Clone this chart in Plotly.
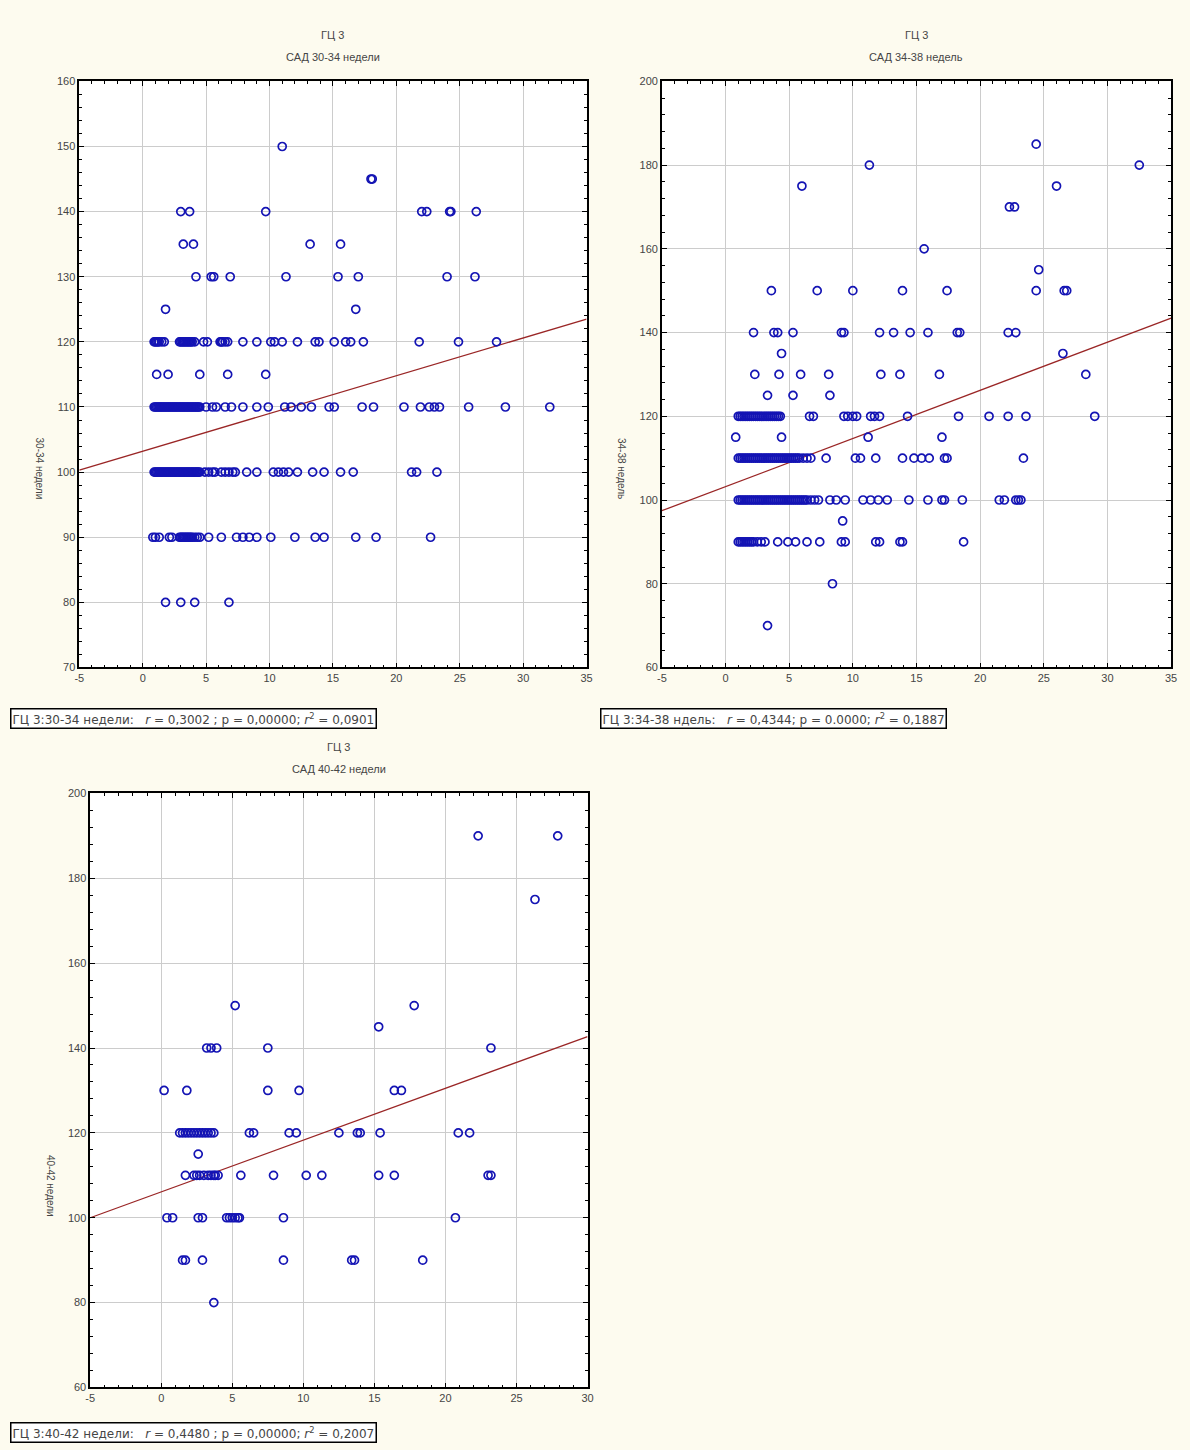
import plotly.graph_objects as go

W, H = 1190, 1450

# ---------------- DATA ----------------
# Panel 1: ГЦ 3 vs САД 30-34 недели  (x values per SBP level)
p1_levels = [150, 145, 140, 135, 130, 125, 120, 115, 110, 100, 90, 80]
p1_x_150 = [11.0]
p1_x_145 = [18.0, 18.1]
p1_x_140 = [3.0, 3.7, 9.7, 22.0, 22.4, 24.2, 24.3, 26.3]
p1_x_135 = [3.2, 4.0, 13.2, 15.6]
p1_x_130 = [4.2, 5.4, 5.6, 6.9, 11.3, 15.4, 17.0, 24.0, 26.2]
p1_x_125 = [1.8, 16.8]
p1_x_120 = [0.9, 1.0, 1.1, 1.2, 1.3, 1.5, 1.7, 2.9, 3.0, 3.1, 3.2, 3.3, 3.4, 3.5, 3.6,
            3.7, 3.8, 3.9, 4.1, 4.8, 5.1, 6.1, 6.2, 6.3, 6.5, 6.7, 7.9, 9.0, 10.1,
            10.4, 11.0, 12.2, 13.6, 13.9, 15.1, 16.0, 16.4, 17.4, 21.8, 24.9, 27.9]
p1_x_115 = [1.1, 2.0, 4.5, 6.7, 9.7]
p1_x_110 = [0.9, 1.0, 1.1, 1.2, 1.3, 1.4, 1.5, 1.6, 1.7, 1.8, 1.9, 2.0, 2.1, 2.2, 2.3,
            2.4, 2.5, 2.6, 2.7, 2.8, 2.9, 3.0, 3.1, 3.2, 3.3, 3.4, 3.5, 3.6, 3.7, 3.8,
            3.9, 4.0, 4.1, 4.2, 4.3, 4.4, 4.5, 5.0, 5.5, 5.8, 6.5, 7.0, 7.9, 9.0, 9.9,
            11.2, 11.7, 12.5, 13.3, 14.7, 15.1, 17.3, 18.2, 20.6, 21.9, 22.6, 23.0,
            23.4, 25.7, 28.6, 32.1]
p1_x_100 = [0.9, 1.0, 1.1, 1.2, 1.3, 1.4, 1.5, 1.6, 1.7, 1.8, 1.9, 2.0, 2.1, 2.2, 2.3,
            2.4, 2.5, 2.6, 2.7, 2.8, 2.9, 3.0, 3.1, 3.2, 3.3, 3.4, 3.5, 3.6, 3.7, 3.8,
            3.9, 4.0, 4.1, 4.2, 4.3, 4.4, 4.5, 4.9, 5.2, 5.5, 5.7, 6.2, 6.5, 6.8, 7.1,
            7.3, 8.2, 9.0, 10.3, 10.7, 11.1, 11.5, 12.2, 13.4, 14.3, 15.6, 16.6, 21.2,
            21.6, 23.2]
p1_x_90 = [0.8, 1.0, 1.3, 2.1, 2.3, 2.9, 3.0, 3.1, 3.2, 3.3, 3.4, 3.5, 3.6, 3.7, 3.8,
           3.9, 4.1, 4.3, 4.5, 5.2, 6.2, 7.4, 7.9, 8.4, 9.0, 10.1, 12.0, 13.6, 14.3,
           16.8, 18.4, 22.7]
p1_x_80 = [1.8, 3.0, 4.1, 6.8]
p1_xrows = [p1_x_150, p1_x_145, p1_x_140, p1_x_135, p1_x_130, p1_x_125, p1_x_120,
            p1_x_115, p1_x_110, p1_x_100, p1_x_90, p1_x_80]

# Panel 2: ГЦ 3 vs САД 34-38 недель
p2_levels = [185, 180, 175, 170, 160, 155, 150, 140, 135, 130, 125, 120, 115, 110, 100, 95, 90, 80, 70]
p2_x_185 = [24.4]
p2_x_180 = [11.3, 32.5]
p2_x_175 = [6.0, 26.0]
p2_x_170 = [22.3, 22.7]
p2_x_160 = [15.6]
p2_x_155 = [24.6]
p2_x_150 = [3.6, 7.2, 10.0, 13.9, 17.4, 24.4, 26.6, 26.8]
p2_x_140 = [2.2, 3.8, 4.1, 5.3, 9.1, 9.3, 12.1, 13.2, 14.5, 15.9, 18.2, 18.4, 22.2, 22.8]
p2_x_135 = [4.4, 26.5]
p2_x_130 = [2.3, 4.2, 5.9, 8.1, 12.2, 13.7, 16.8, 28.3]
p2_x_125 = [3.3, 5.3, 8.2]
p2_x_120 = [1.0, 1.15, 1.3, 1.45, 1.6, 1.75, 1.9, 2.05, 2.2, 2.35, 2.5, 2.65, 2.8, 2.95,
            3.1, 3.25, 3.4, 3.55, 3.7, 3.85, 4.0, 4.15, 4.3, 6.6, 6.9, 9.3, 9.6, 10.0,
            10.3, 11.4, 11.7, 12.1, 14.3, 18.3, 20.7, 22.2, 23.6, 29.0]
p2_x_115 = [0.8, 4.4, 11.2, 17.0]
p2_x_110 = [1.0, 1.15, 1.3, 1.45, 1.6, 1.75, 1.9, 2.05, 2.2, 2.35, 2.5, 2.65, 2.8, 2.95,
            3.1, 3.25, 3.4, 3.55, 3.7, 3.85, 4.0, 4.15, 4.3, 4.45, 4.6, 4.75, 4.9, 5.05,
            5.2, 5.35, 5.5, 5.65, 5.8, 6.1, 6.4, 6.7, 7.9, 10.2, 10.6, 11.8, 13.9, 14.8,
            15.4, 16.0, 17.2, 17.4, 23.4]
p2_x_100 = [1.0, 1.15, 1.3, 1.45, 1.6, 1.75, 1.9, 2.05, 2.2, 2.35, 2.5, 2.65, 2.8, 2.95,
            3.1, 3.25, 3.4, 3.55, 3.7, 3.85, 4.0, 4.15, 4.3, 4.45, 4.6, 4.75, 4.9, 5.05,
            5.2, 5.35, 5.5, 5.65, 5.8, 5.95, 6.1, 6.25, 6.4, 6.7, 7.0, 7.3, 8.2, 8.7,
            9.4, 10.8, 11.4, 12.0, 12.7, 14.4, 15.9, 17.0, 17.2, 18.6, 21.5, 21.9, 22.8,
            23.0, 23.2]
p2_x_95 = [9.2]
p2_x_90 = [1.0, 1.15, 1.3, 1.45, 1.6, 1.75, 1.9, 2.05, 2.2, 2.5, 2.8, 3.1, 4.1, 4.9,
           5.5, 6.4, 7.4, 9.1, 9.4, 11.8, 12.1, 13.7, 13.9, 18.7]
p2_x_80 = [8.4]
p2_x_70 = [3.3]
p2_xrows = [p2_x_185, p2_x_180, p2_x_175, p2_x_170, p2_x_160, p2_x_155, p2_x_150,
            p2_x_140, p2_x_135, p2_x_130, p2_x_125, p2_x_120, p2_x_115, p2_x_110,
            p2_x_100, p2_x_95, p2_x_90, p2_x_80, p2_x_70]

# Panel 3: ГЦ 3 vs САД 40-42 недели
p3_levels = [190, 175, 150, 145, 140, 130, 120, 115, 110, 100, 90, 80]
p3_x_190 = [22.3, 27.9]
p3_x_175 = [26.3]
p3_x_150 = [5.2, 17.8]
p3_x_145 = [15.3]
p3_x_140 = [3.2, 3.5, 3.9, 7.5, 23.2]
p3_x_130 = [0.2, 1.8, 7.5, 9.7, 16.4, 16.9]
p3_x_120 = [1.3, 1.5, 1.7, 1.9, 2.1, 2.3, 2.5, 2.7, 2.9, 3.1, 3.3, 3.5, 3.7, 6.2, 6.5,
            9.0, 9.5, 12.5, 13.8, 14.0, 15.4, 20.9, 21.7]
p3_x_115 = [2.6]
p3_x_110 = [1.7, 2.3, 2.5, 2.7, 3.0, 3.3, 3.5, 3.7, 3.8, 4.0, 5.6, 7.9, 10.2, 11.3,
            15.3, 16.4, 23.0, 23.2]
p3_x_100 = [0.4, 0.8, 2.6, 2.9, 4.6, 4.8, 5.0, 5.2, 5.4, 5.5, 8.6, 20.7]
p3_x_90 = [1.5, 1.7, 2.9, 8.6, 13.4, 13.6, 18.4]
p3_x_80 = [3.7]
p3_xrows = [p3_x_190, p3_x_175, p3_x_150, p3_x_145, p3_x_140, p3_x_130, p3_x_120,
            p3_x_115, p3_x_110, p3_x_100, p3_x_90, p3_x_80]

# regression lines
fit_intercepts = [103.2, 103.2, 106.1]
fit_slopes = [0.58, 1.15, 1.22]

titles_top = ["ГЦ 3", "ГЦ 3", "ГЦ 3"]
titles_sub = ["САД 30-34 недели", "САД 34-38 недель", "САД 40-42 недели"]
y_titles = ["30-34 недели", "34-38 недель", "40-42 недели"]
footers = [
    "ГЦ 3:30-34 недели:   <i>r</i> = 0,3002 ; p = 0,00000; <i>r</i><sup>2</sup> = 0,0901",
    "ГЦ 3:34-38 ндель:   <i>r</i> = 0,4344; p = 0.0000; <i>r</i><sup>2</sup> = 0,1887",
    "ГЦ 3:40-42 недели:   <i>r</i> = 0,4480 ; p = 0,00000; <i>r</i><sup>2</sup> = 0,2007",
]
x_ranges = [[-5, 35], [-5, 35], [-5, 30]]
x_tickvals = [[-5, 0, 5, 10, 15, 20, 25, 30, 35],
              [-5, 0, 5, 10, 15, 20, 25, 30, 35],
              [-5, 0, 5, 10, 15, 20, 25, 30]]
x_ticktext = [["-5", "0", "5", "10", "15", "20", "25", "30", "35"],
              ["-5", "0", "5", "10", "15", "20", "25", "30", "35"],
              ["-5", "0", "5", "10", "15", "20", "25", "30"]]
y_ranges = [[70, 160], [60, 200], [60, 200]]
y_dticks = [10, 20, 20]
y_minor = [2, 4, 4]

# ---------------- LAYOUT (pixel boxes) ----------------
boxes = [  # left, right, top, bottom in px
    (75, 587, 76, 667),
    (663, 1177, 76, 667),
    (86, 588, 794, 1393),
]
footer_left = [5, 601, 5]

def fx(px):
    return px / W

def fy(py):
    return 1 - py / H

FONT = "Liberation Sans, Arial, sans-serif"
MARK = "#1414b4"
LINE = "#9a2626"
TXT = "#454545"

fig = go.Figure()
layout = dict(
    width=W, height=H,
    margin=dict(l=0, r=0, t=0, b=0),
    paper_bgcolor="#fdfbef",
    plot_bgcolor="#ffffff",
    showlegend=False,
    font=dict(family=FONT, size=11, color=TXT),
    annotations=[],
)

panels = [(p1_levels, p1_xrows), (p2_levels, p2_xrows), (p3_levels, p3_xrows)]
for i, (levels, xrows) in enumerate(panels):
    n = "" if i == 0 else str(i + 1)
    xs, ys = [], []
    for lv, row in zip(levels, xrows):
        xs.extend(row)
        ys.extend([lv] * len(row))
    xr = x_ranges[i]
    fig.add_trace(go.Scatter(
        x=xr, y=[fit_intercepts[i] + fit_slopes[i] * v for v in xr],
        mode="lines", xaxis="x" + n, yaxis="y" + n,
        line=dict(color=LINE, width=1.3),
    ))
    fig.add_trace(go.Scatter(
        x=xs, y=ys, mode="markers", xaxis="x" + n, yaxis="y" + n,
        marker=dict(symbol="circle-open", size=8, color=MARK, line=dict(width=1.7, color=MARK)),
    ))
    l, r, t, b = boxes[i]
    layout["xaxis" + n] = dict(
        domain=[fx(l), fx(r)], range=xr, anchor="y" + n,
        tickmode="array", tickvals=x_tickvals[i], ticktext=x_ticktext[i],
        ticks="inside", ticklen=5, tickcolor="#000",
        showline=True, linecolor="#000", linewidth=1.5, mirror="allticks",
        showgrid=True, gridcolor="#cccccc", gridwidth=1, zeroline=False,
        minor=dict(dtick=1, tick0=0, ticks="inside", ticklen=3, tickcolor="#000", showgrid=False),
        tickfont=dict(size=11, color=TXT),
    )
    layout["yaxis" + n] = dict(
        domain=[fy(b), fy(t)], range=y_ranges[i], anchor="x" + n,
        dtick=y_dticks[i], ticks="inside", ticklen=5, tickcolor="#000",
        showline=True, linecolor="#000", linewidth=1.5, mirror="allticks",
        showgrid=True, gridcolor="#cccccc", gridwidth=1, zeroline=False,
        minor=dict(dtick=y_minor[i], ticks="inside", ticklen=3, tickcolor="#000", showgrid=False),
        tickfont=dict(size=11, color=TXT),
    )
    cx = (l + r) / 2
    layout["annotations"] += [
        dict(x=fx(cx), y=fy(t - 47), xref="paper", yref="paper", text=titles_top[i],
             showarrow=False, font=dict(size=11, color=TXT), xanchor="center", yanchor="middle"),
        dict(x=fx(cx), y=fy(t - 25), xref="paper", yref="paper", text=titles_sub[i],
             showarrow=False, font=dict(size=11, color=TXT), xanchor="center", yanchor="middle"),
        dict(x=fx(l - 40), y=fy(t + 0.66 * (b - t)), xref="paper", yref="paper", text=y_titles[i],
             showarrow=False, textangle=90, font=dict(size=10, color=TXT),
             xanchor="center", yanchor="middle"),
        dict(x=fx(footer_left[i]), y=fy(b + 51 if i < 2 else b + 45), xref="paper", yref="paper",
             text=footers[i], showarrow=False, xanchor="left", yanchor="middle",
             font=dict(family="DejaVu Sans, Verdana, sans-serif", size=12, color=TXT),
             bgcolor="#ffffff", bordercolor="#000000", borderwidth=1.5, borderpad=1),
    ]

fig.update_layout(**layout)
fig.write_html("out.html")
